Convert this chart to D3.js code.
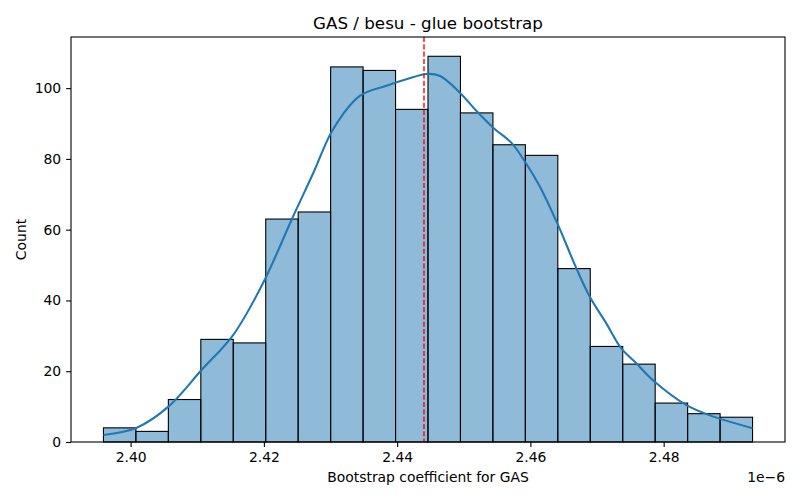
<!DOCTYPE html>
<html>
<head>
<meta charset="utf-8">
<script src="https://cdn.jsdelivr.net/npm/d3@7"></script>
<style>
body { margin: 0; background: #fff; }
svg { font-family: "DejaVu Sans", sans-serif; }
</style>
</head>
<body>
<svg id="chart" width="800" height="500"></svg>
<script>
// Data (x values in units of 1e-6)
const binStart = 2.395924;
const binEnd = 2.49334;
const counts = [4, 3, 12, 29, 28, 63, 65, 106, 105, 94, 109, 93, 84, 81, 49, 27, 22, 11, 8, 7];
const kdeX = [2.39592, 2.40093, 2.40567, 2.41067, 2.41541, 2.41990, 2.42440, 2.42765, 2.42840, 2.43039, 2.43439, 2.43840, 2.44139, 2.44439, 2.44638, 2.44938, 2.45188, 2.45437, 2.45713, 2.45912, 2.46139, 2.46411, 2.46687, 2.46887, 2.47137, 2.47361, 2.47586, 2.47861, 2.48336, 2.48685, 2.49334];
const kdeY = [2.0, 4.05, 10.0, 20.4, 30.3, 45.0, 63.8, 77, 80.4, 88.4, 97.8, 100.7, 102.5, 104.0, 103.5, 98.8, 93.6, 88.9, 84.6, 79.4, 72.3, 61.5, 49.2, 41.2, 33.6, 26.5, 22.3, 17.1, 10.5, 7.6, 3.9];
const meanValue = 2.44403;
const xTicks = [2.40, 2.42, 2.44, 2.46, 2.48];
const yTicks = [0, 20, 40, 60, 80, 100];
const titleText = "GAS / besu - glue bootstrap";
const xLabel = "Bootstrap coefficient for GAS";
const yLabel = "Count";
const offsetText = "1e\u22126";

const svg = d3.select("#chart");
const L = 71, R = 785, T = 37, B = 442;

const binW = (binEnd - binStart) / counts.length;
const bins = counts.map((c, i) => ({ x0: binStart + i * binW, x1: binStart + (i + 1) * binW, c }));
const pad = (binEnd - binStart) * 0.05;
const x = d3.scaleLinear().domain([binStart - pad, binEnd + pad]).range([L, R]);
const yMax = d3.max(counts) * 1.05;
const y = d3.scaleLinear().domain([0, yMax]).range([B, T]);

// bars
svg.append("g").selectAll("rect").data(bins).join("rect")
  .attr("x", d => x(d.x0))
  .attr("y", d => y(d.c))
  .attr("width", d => x(d.x1) - x(d.x0))
  .attr("height", d => y(0) - y(d.c))
  .attr("fill", "rgba(31,119,180,0.5)")
  .attr("stroke", "#000")
  .attr("stroke-width", 1.1);

// KDE
const pts = kdeX.map((v, i) => [v, kdeY[i]]);
svg.append("path")
  .datum(pts)
  .attr("fill", "none")
  .attr("stroke", "#1f77b4")
  .attr("stroke-width", 2.08)
  .attr("d", d3.line().x(d => x(d[0])).y(d => y(d[1])).curve(d3.curveCatmullRom.alpha(0.5)));

// mean line
svg.append("line")
  .attr("x1", x(meanValue)).attr("x2", x(meanValue))
  .attr("y1", T).attr("y2", B)
  .attr("stroke", "red").attr("stroke-width", 1.39)
  .attr("stroke-dasharray", "5.1,2.2");

// axes
const xAxis = svg.append("g").attr("transform", `translate(0,${B})`)
  .call(d3.axisBottom(x).tickValues(xTicks).tickFormat(d3.format(".2f")).tickSizeOuter(0).tickSize(4.9).tickPadding(4.9));
const yAxis = svg.append("g").attr("transform", `translate(${L},0)`)
  .call(d3.axisLeft(y).tickValues(yTicks).tickFormat(d3.format("d")).tickSizeOuter(0).tickSize(4.9).tickPadding(4.9));
[xAxis, yAxis].forEach(g => {
  g.select(".domain").remove();
  g.selectAll("text").attr("font-size", "13.9px").attr("fill", "#000").attr("font-family", "DejaVu Sans");
  g.selectAll("line").attr("stroke", "#000").attr("stroke-width", 1.1);
});

// frame
svg.append("rect").attr("x", L).attr("y", T).attr("width", R - L).attr("height", B - T)
  .attr("fill", "none").attr("stroke", "#000").attr("stroke-width", 1.1);

// labels
svg.append("text").attr("x", (L + R) / 2).attr("y", 29).attr("text-anchor", "middle")
  .attr("font-size", "16.7px").text(titleText);
svg.append("text").attr("x", (L + R) / 2).attr("y", 482).attr("text-anchor", "middle")
  .attr("font-size", "13.9px").text(xLabel);
svg.append("text").attr("transform", `translate(26,${(T + B) / 2}) rotate(-90)`).attr("text-anchor", "middle")
  .attr("font-size", "13.9px").text(yLabel);
svg.append("text").attr("x", R).attr("y", 482).attr("text-anchor", "end")
  .attr("font-size", "13.9px").text(offsetText);
</script>
</body>
</html>
